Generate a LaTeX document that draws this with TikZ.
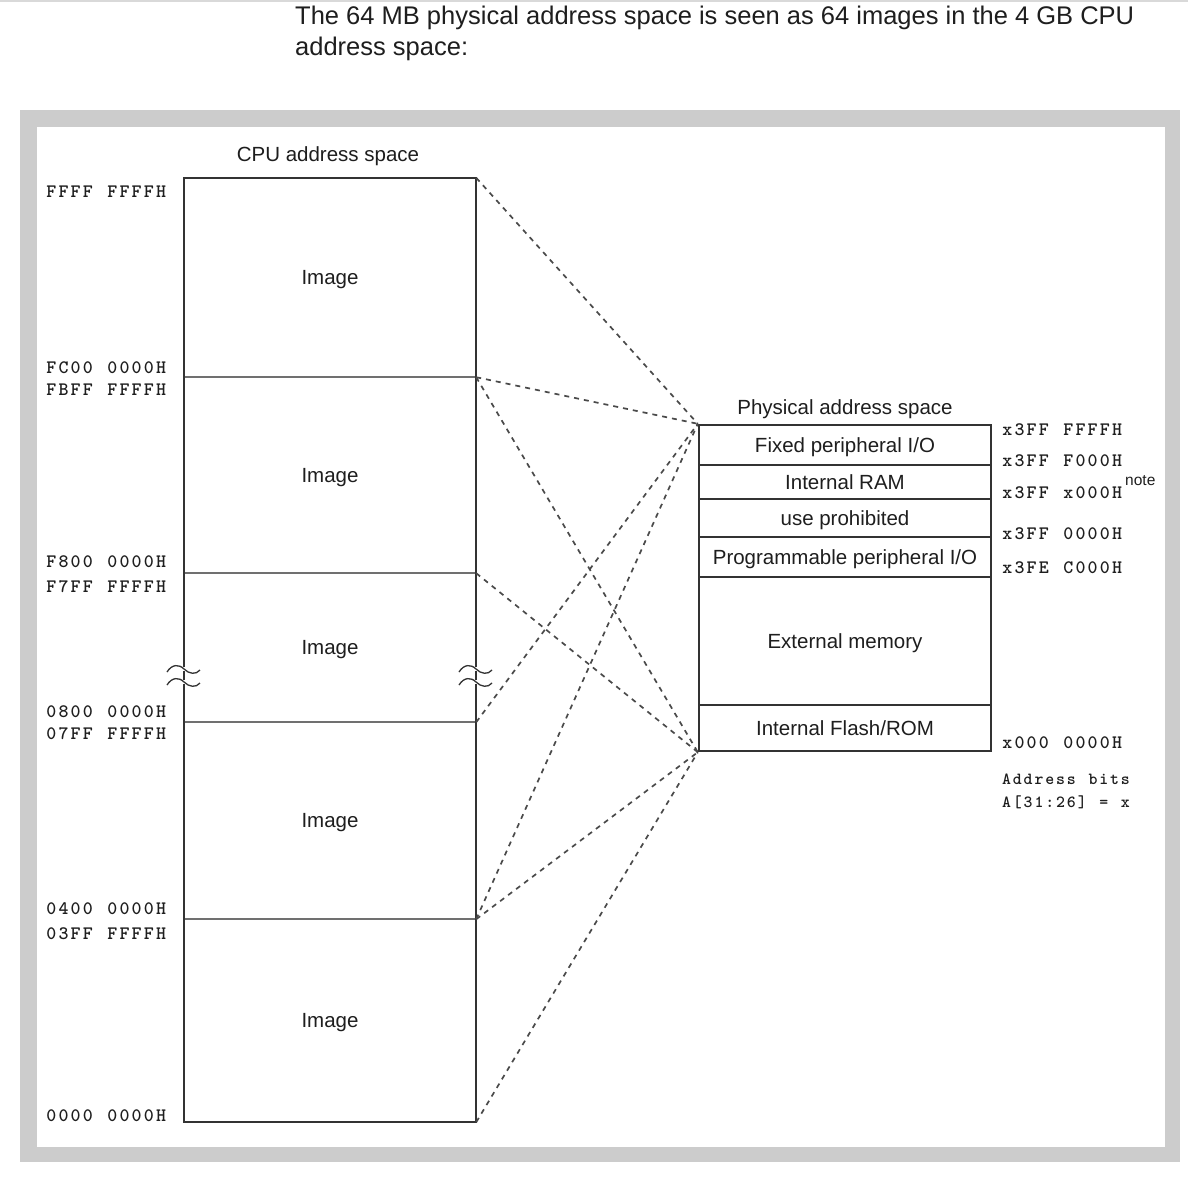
\documentclass[tikz,border=0pt]{standalone}
\usepackage{fontspec}
\setmainfont{Liberation Sans}
\definecolor{framegray}{HTML}{CCCCCC}
\definecolor{linedark}{HTML}{333333}
\definecolor{divgray}{HTML}{707070}
\definecolor{dashgray}{HTML}{4A4A4A}
\definecolor{txt}{HTML}{1E1E1E}
\newlength\spcw
\newcommand\spc[1]{\spcaux#1\relax}
\def\spcaux#1{\ifx#1\relax\else\makebox[\spcw][c]{#1}\expandafter\spcaux\fi}
\newcommand\addrfont{\fontsize{19}{22}\ttfamily\bfseries\setlength\spcw{12.2pt}}
\newcommand\smalladdrfont{\fontsize{17}{20}\ttfamily\bfseries\setlength\spcw{10.8pt}}
\newcommand\labfont{\fontsize{20.5}{24}\selectfont}
\tikzset{
  seg/.style={rectangle, inner sep=0pt, minimum width=292pt, text height=14.8pt, text depth=0pt, font=\labfont, text=txt},
  pseg/.style={seg, draw=linedark, line width=2.4pt},
  addr/.style={anchor=west, inner sep=0pt, text height=11.6pt, text depth=0pt, font=\addrfont, text=txt},
  smalladdr/.style={addr, text height=10.4pt, font=\smalladdrfont},
  caption/.style={anchor=base, inner sep=0pt, font=\labfont, text=txt},
  titletext/.style={anchor=base west, inner sep=0pt, font=\fontsize{25.5}{30}\selectfont, text=txt},
  mapline/.style={draw=dashgray, line width=1.7pt, dash pattern=on 5pt off 5pt},
  wave/.style={draw=linedark, line width=1.3pt},
  outerline/.style={draw=linedark, line width=2.2pt},
  divline/.style={draw=divgray, line width=2pt}
}
\begin{document}
\begin{tikzpicture}[x=1pt,y=-1pt]
\useasboundingbox (0,0) rectangle (1188,1177);
\fill[white] (0,0) rectangle (1188,1177);
\fill[gray!30] (0,0) rectangle (1188,2.5);
% frame
\fill[framegray] (20,110) rectangle (1180,1162);
\fill[white] (37,127) rectangle (1165,1147);
% title
\node[titletext] (t1) at (295,25) {The 64 MB physical address space is seen as 64 images in the 4 GB CPU};
\node[titletext] (t2) at (295,56) {address space:};
% CPU address space
\node[caption] (cpucap) at (328,162) {CPU address space};
\node[seg, minimum height=199pt] (im1) at (330,277.5) {Image};
\node[seg, minimum height=196pt] (im2) at (330,475) {Image};
\node[seg, minimum height=149pt] (im3) at (330,647.5) {Image};
\node[seg, minimum height=197pt] (im4) at (330,820.5) {Image};
\node[seg, minimum height=203pt] (im5) at (330,1020.5) {Image};
\draw[divline] (im1.south west) -- (im1.south east);
\draw[divline] (im2.south west) -- (im2.south east);
\draw[divline] (im3.south west) -- (im3.south east);
\draw[divline] (im4.south west) -- (im4.south east);
\draw[outerline] (im1.north west) rectangle (im5.south east);
% break marks
\foreach \wx in {184,476} {
  \foreach \wy in {669,682} {
    \fill[white] (\wx-16,\wy-2) rectangle (\wx+15,\wy+2);
    \draw[wave] (\wx-17,\wy+3) .. controls (\wx-12,\wy-5) and (\wx-5,\wy-5) .. (\wx,\wy) .. controls (\wx+5,\wy+5) and (\wx+12,\wy+6) .. (\wx+16,\wy+1);
  }
}
% left addresses
\node[addr] (a1) at (45,192) {\spc{FFFF~FFFFH}};
\node[addr] (a2) at (45,367.5) {\spc{FC00~0000H}};
\node[addr] (a3) at (45,390) {\spc{FBFF~FFFFH}};
\node[addr] (a4) at (45,562) {\spc{F800~0000H}};
\node[addr] (a5) at (45,587) {\spc{F7FF~FFFFH}};
\node[addr] (a6) at (45,712) {\spc{0800~0000H}};
\node[addr] (a7) at (45,734) {\spc{07FF~FFFFH}};
\node[addr] (a8) at (45,909) {\spc{0400~0000H}};
\node[addr] (a9) at (45,934) {\spc{03FF~FFFFH}};
\node[addr] (a10) at (45,1116) {\spc{0000~0000H}};
% physical address space
\node[caption] (physcap) at (845,414) {Physical address space};
\node[pseg, minimum height=40pt] (p1) at (845,445) {Fixed peripheral I/O};
\node[pseg, minimum height=34pt] (p2) at (845,482) {Internal RAM};
\node[pseg, minimum height=38pt] (p3) at (845,518) {use prohibited};
\node[pseg, minimum height=40pt] (p4) at (845,557) {Programmable peripheral I/O};
\node[pseg, minimum height=128pt] (p5) at (845,641) {External memory};
\node[pseg, minimum height=46pt] (p6) at (845,728) {Internal Flash/ROM};
% right addresses
\node[addr] (r1) at (1001,430) {\spc{x3FF~FFFFH}};
\node[addr] (r2) at (1001,460.5) {\spc{x3FF~F000H}};
\node[addr] (r3) at (1001,492.5) {\spc{x3FF~x000H}};
\node[anchor=west, inner sep=0pt, font=\fontsize{15.5}{18}\selectfont, text=txt] (note) at (1125,481) {note};
\node[addr] (r4) at (1001,533.5) {\spc{x3FF~0000H}};
\node[addr] (r5) at (1001,567.5) {\spc{x3FE~C000H}};
\node[addr] (r6) at (1001,743) {\spc{x000~0000H}};
\node[smalladdr] (r7) at (1001,779.5) {\spc{Address~bits}};
\node[smalladdr] (r8) at (1001,802) {\spc{A[31:26]~=~x}};
% mapping lines
\draw[mapline] (im1.north east) -- (p1.north west);
\draw[mapline] (im1.south east) -- (p1.north west);
\draw[mapline] (im1.south east) -- (p6.south west);
\draw[mapline] (im2.south east) -- (p6.south west);
\draw[mapline] (im3.south east) -- (p1.north west);
\draw[mapline] (im4.south east) -- (p1.north west);
\draw[mapline] (im4.south east) -- (p6.south west);
\draw[mapline] (im5.south east) -- (p6.south west);
\end{tikzpicture}
\end{document}
